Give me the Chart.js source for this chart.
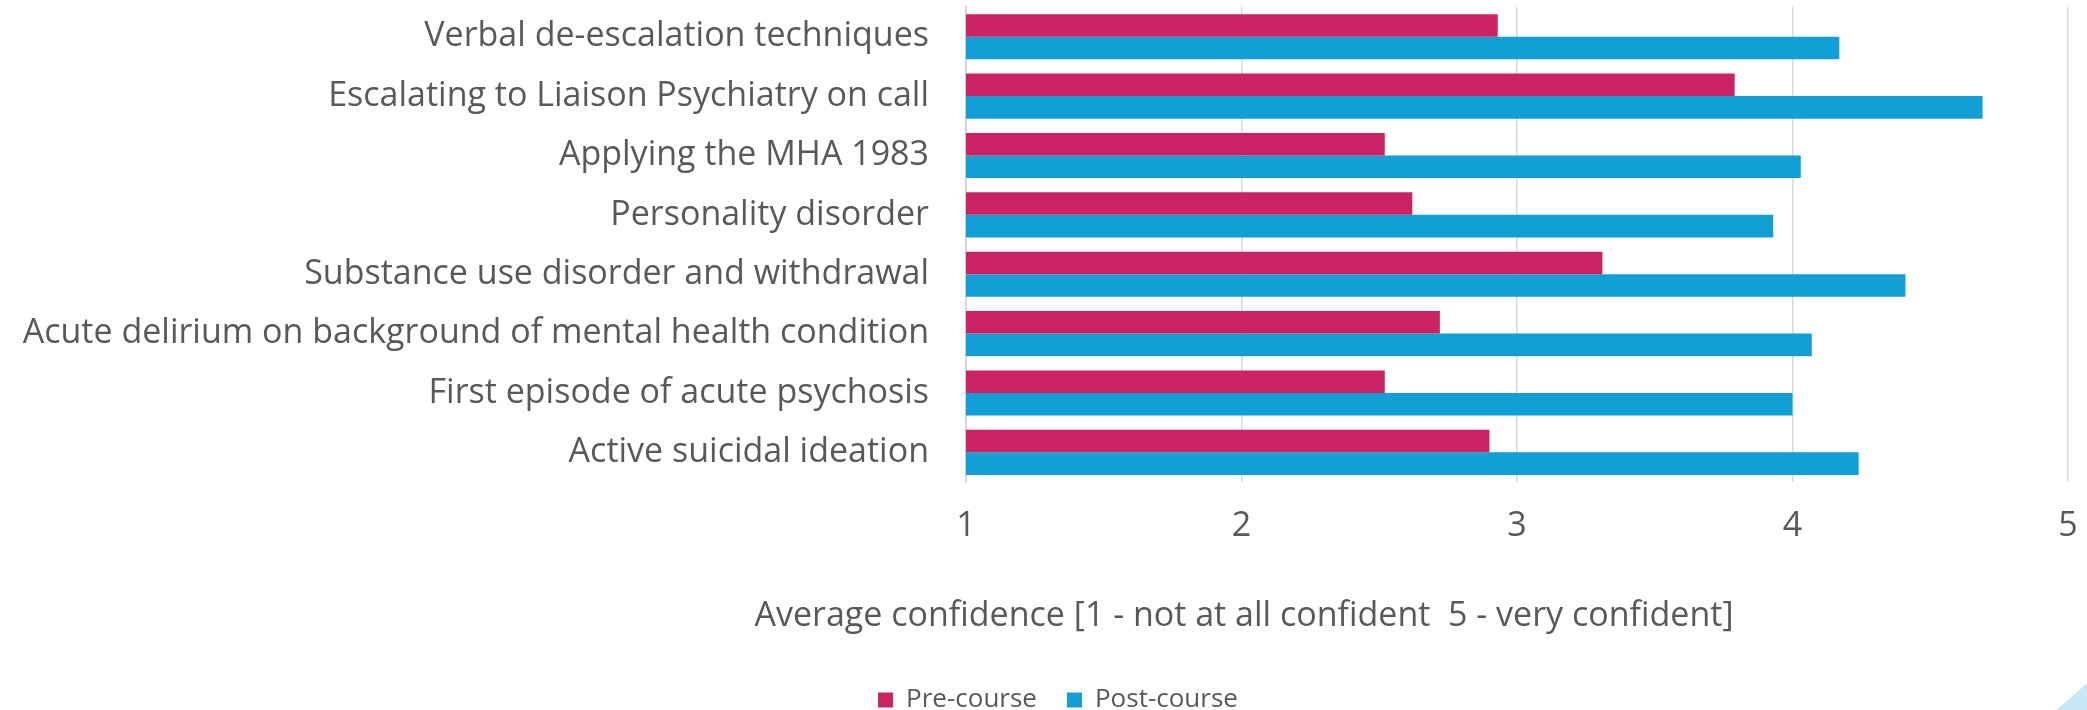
<!DOCTYPE html>
<html>
<head>
<meta charset="utf-8">
<script src="https://cdn.jsdelivr.net/npm/chart.js@4"></script>
<style>
  html, body { margin: 0; padding: 0; background: #fff; overflow: hidden; }
  #wrap { width: 2087px; height: 723px; }
</style>
</head>
<body>
<div id="wrap"><canvas id="confidenceChart"></canvas></div>
<script>
const topics = [
    "Verbal de-escalation techniques",
    "Escalating to Liaison Psychiatry on call",
    "Applying the MHA 1983",
    "Personality disorder",
    "Substance use disorder and withdrawal",
    "Acute delirium on background of mental health condition",
    "First episode of acute psychosis",
    "Active suicidal ideation"
];
const preCourse = [2.93, 3.79, 2.52, 2.62, 3.31, 2.72, 2.52, 2.90];
const postCourse = [4.17, 4.69, 4.03, 3.93, 4.41, 4.07, 4.00, 4.24];
const axisTitle = "Average confidence [1 - not at all confident  5 - very confident]";

const FONT = "'Open Sans'";
const TEXT = "#595959";

// axis title sits off-centre in the original, so draw it by hand
const axisTitlePlugin = {
    id: "axisTitle",
    afterDraw(chart) {
        const ctx = chart.ctx;
        ctx.save();
        ctx.font = "34px " + FONT;
        ctx.fillStyle = TEXT;
        ctx.textAlign = "center";
        ctx.textBaseline = "alphabetic";
        ctx.fillText(axisTitle, 1244, 626);
        ctx.restore();
    }
};

// legend in the original sits a little right of the canvas centre
const legendShiftPlugin = {
    id: "legendShift",
    afterLayout(chart) {
        if (chart.legend) {
            chart.legend.left += 24;
            chart.legend.right += 24;
        }
    }
};

// light blue corner triangle from the slide
const cornerPlugin = {
    id: "corner",
    beforeDraw(chart) {
        const ctx = chart.ctx;
        ctx.save();
        ctx.fillStyle = "#c9e8f5";
        ctx.beginPath();
        ctx.moveTo(2042, 723);
        ctx.lineTo(2087, 683);
        ctx.lineTo(2087, 723);
        ctx.closePath();
        ctx.fill();
        ctx.restore();
    }
};

const ctx = document.getElementById("confidenceChart").getContext("2d");

new Chart(ctx, {
    type: "bar",
    data: {
        labels: topics,
        datasets: [
            {
                label: "Pre-course",
                data: preCourse,
                backgroundColor: "#ca2262",
                categoryPercentage: 0.76,
                barPercentage: 1.0,
            },
            {
                label: "Post-course",
                data: postCourse,
                backgroundColor: "#119fd6",
                categoryPercentage: 0.76,
                barPercentage: 1.0,
            },
        ],
    },
    options: {
        indexAxis: "y",
        responsive: true,
        maintainAspectRatio: false,
        animation: false,
        layout: {
            padding: { top: 7, right: 19, left: 0, bottom: 0 },
        },
        plugins: {
            legend: {
                position: "bottom",
                labels: {
                    font: { family: FONT, size: 26 },
                    color: TEXT,
                    boxWidth: 15,
                    boxHeight: 15,
                    padding: 30,
                },
            },
            tooltip: { enabled: false },
        },
        scales: {
            x: {
                min: 1,
                max: 5,
                ticks: {
                    stepSize: 1,
                    color: TEXT,
                    font: { family: FONT, size: 34 },
                    padding: 24,
                },
                grid: { color: "#d9d9d9", lineWidth: 1.5, drawTicks: false },
                border: { display: false },
                afterFit(scale) {
                    scale.height = 175;
                    scale.paddingLeft = 0;
                    scale.paddingRight = 0;
                },
            },
            y: {
                ticks: {
                    color: TEXT,
                    font: { family: FONT, size: 34 },
                    padding: 37,
                },
                grid: { display: false, drawTicks: false },
                border: { color: "#d0d0d0", width: 1.5 },
                afterFit(scale) {
                    scale.width = 966;
                    // tick padding would otherwise push the plot down
                    scale.paddingTop = 0;
                    scale.paddingBottom = 0;
                },
            },
        },
    },
    plugins: [cornerPlugin, legendShiftPlugin, axisTitlePlugin],
});
</script>
</body>
</html>
